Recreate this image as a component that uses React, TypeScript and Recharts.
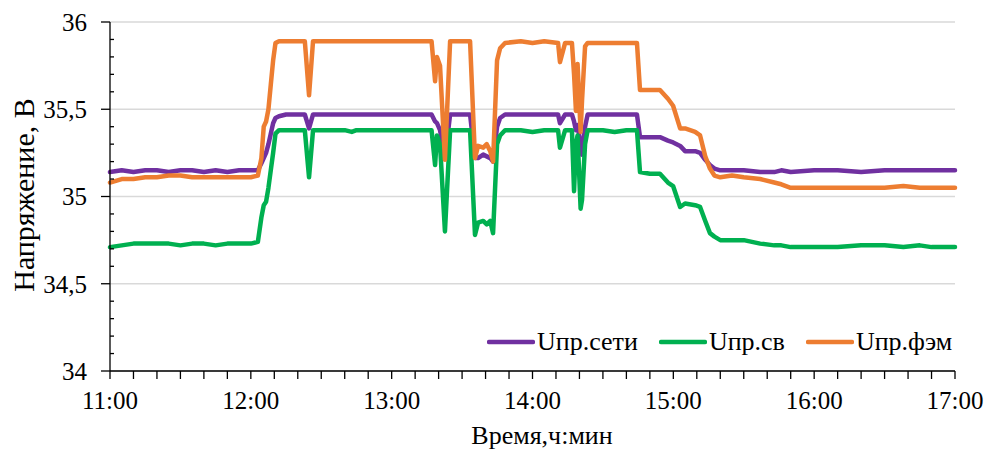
import React from 'react';
import { LineChart, Line, XAxis, YAxis, CartesianGrid } from 'recharts';

// minutes since 11:00
const minutes = [
  0, 5, 10, 15, 20, 25, 30, 35, 40, 45, 50, 55, 60, 63, 64.5, 65.5, 66.5, 67.5, 68.5, 69.5,
  70.5, 72, 75, 80, 83, 84.8, 86.5, 90, 100, 103, 105, 110, 120, 130, 137, 138.5, 139.3, 140.6, 142.7, 144.9,
  150, 153.4, 155.5, 156.8, 159, 160.5, 162, 163.2, 164.9, 166.2, 168.3, 175, 180, 185, 190.9, 191.7, 193.9, 196.8, 197.7, 198.5,
  199.2, 200.5, 201.1, 202.4, 203.5, 210, 215, 220, 224.5, 225.8, 230, 234.3, 237.7, 239.9, 242.9, 245, 249.3, 251.4, 253.6, 255.6,
  257.5, 260, 265, 270, 277, 283, 286, 290, 300, 310, 320, 330, 338, 345, 350, 360,
];

const uSeti = [
  35.14, 35.15, 35.14, 35.15, 35.15, 35.14, 35.15, 35.15, 35.14, 35.15, 35.14, 35.15, 35.15, 35.15, 35.19, 35.22, 35.25, 35.3, 35.36, 35.42,
  35.45, 35.46, 35.47, 35.47, 35.47, 35.39, 35.47, 35.47, 35.47, 35.47, 35.47, 35.47, 35.47, 35.47, 35.47, 35.43, 35.42, 35.38, 35.22, 35.47,
  35.47, 35.47, 35.22, 35.22, 35.24, 35.23, 35.22, 35.2, 35.4, 35.45, 35.47, 35.47, 35.47, 35.47, 35.47, 35.42, 35.47, 35.47, 35.43, 35.38,
  35.41, 35.3, 35.24, 35.4, 35.47, 35.47, 35.47, 35.47, 35.47, 35.34, 35.34, 35.34, 35.32, 35.31, 35.29, 35.26, 35.26, 35.25, 35.21, 35.18,
  35.16, 35.15, 35.15, 35.15, 35.14, 35.14, 35.15, 35.14, 35.15, 35.15, 35.14, 35.15, 35.15, 35.15, 35.15, 35.15,
];

const uSv = [
  34.71, 34.72, 34.73, 34.73, 34.73, 34.73, 34.72, 34.73, 34.73, 34.72, 34.73, 34.73, 34.73, 34.74, 34.88, 34.95, 34.97, 35.05, 35.15, 35.25,
  35.36, 35.38, 35.38, 35.38, 35.38, 35.11, 35.38, 35.38, 35.38, 35.37, 35.38, 35.38, 35.38, 35.38, 35.38, 35.18, 35.35, 35.3, 34.8, 35.38,
  35.38, 35.38, 34.78, 34.85, 34.86, 34.84, 34.86, 34.79, 35.3, 35.35, 35.38, 35.38, 35.37, 35.38, 35.38, 35.28, 35.38, 35.38, 35.03, 35.3,
  35.35, 34.93, 34.98, 35.3, 35.38, 35.38, 35.37, 35.38, 35.38, 35.14, 35.13, 35.13, 35.08, 35.06, 34.94, 34.96, 34.95, 34.94, 34.86, 34.79,
  34.77, 34.75, 34.75, 34.75, 34.73, 34.72, 34.72, 34.71, 34.71, 34.71, 34.72, 34.72, 34.71, 34.72, 34.71, 34.71,
];

const uFem = [
  35.08, 35.1, 35.1, 35.11, 35.11, 35.12, 35.12, 35.11, 35.11, 35.11, 35.11, 35.11, 35.11, 35.12, 35.22, 35.4, 35.43, 35.5, 35.64, 35.78,
  35.88, 35.89, 35.89, 35.89, 35.89, 35.58, 35.89, 35.89, 35.89, 35.89, 35.89, 35.89, 35.89, 35.89, 35.89, 35.66, 35.8, 35.75, 35.21, 35.89,
  35.89, 35.89, 35.22, 35.29, 35.28, 35.3, 35.26, 35.2, 35.78, 35.85, 35.88, 35.89, 35.88, 35.89, 35.88, 35.77, 35.88, 35.88, 35.7, 35.49,
  35.76, 35.37, 35.55, 35.86, 35.88, 35.88, 35.88, 35.88, 35.88, 35.61, 35.61, 35.61, 35.56, 35.52, 35.39, 35.39, 35.37, 35.35, 35.23, 35.16,
  35.12, 35.11, 35.12, 35.11, 35.1, 35.08, 35.07, 35.05, 35.05, 35.05, 35.05, 35.05, 35.06, 35.05, 35.05, 35.05,
];

const xTicks = [
  0, 10, 20, 30, 40, 50, 60, 70, 80, 90, 100, 110, 120, 130, 140, 150, 160, 170, 180,
  190, 200, 210, 220, 230, 240, 250, 260, 270, 280, 290, 300, 310, 320, 330, 340, 350, 360,
];
const yTicks = [
  34, 34.1, 34.2, 34.3, 34.4, 34.5, 34.6, 34.7, 34.8, 34.9, 35,
  35.1, 35.2, 35.3, 35.4, 35.5, 35.6, 35.7, 35.8, 35.9, 36,
];
const yMajor = [34, 34.5, 35, 35.5, 36];

const data = minutes.map((t, i) => ({ t, seti: uSeti[i], sv: uSv[i], fem: uFem[i] }));

const series = [
  { key: 'seti', name: 'Uпр.сети', color: '#7030A0' },
  { key: 'sv', name: 'Uпр.св', color: '#00B050' },
  { key: 'fem', name: 'Uпр.фэм', color: '#ED7D31' },
];

const FONT = '"Liberation Serif", "Times New Roman", serif';
const W = 986;
const H = 451;
const AXIS_X = 110;
const AXIS_BOTTOM = 371;

const YTick = (props: any) => {
  const { y, payload } = props;
  const v = payload.value;
  const isMajor = yMajor.some((m) => Math.abs(m - v) < 1e-6);
  if (!isMajor) {
    return <line x1={AXIS_X} x2={AXIS_X + 4} y1={y} y2={y} stroke="#000" strokeWidth={1.3} />;
  }
  return (
    <g>
      <line x1={AXIS_X - 9} x2={AXIS_X} y1={y} y2={y} stroke="#000" strokeWidth={1.3} />
      <text x={AXIS_X - 23} y={y} dy="0.35em" textAnchor="end" fontSize={25} fontFamily={FONT} fill="#000">
        {String(v).replace('.', ',')}
      </text>
    </g>
  );
};

const XTick = (props: any) => {
  const { x, payload } = props;
  const v = payload.value;
  return (
    <g>
      <line x1={x} x2={x} y1={AXIS_BOTTOM} y2={AXIS_BOTTOM + 8} stroke="#000" strokeWidth={1.3} />
      {v % 60 === 0 && (
        <text x={x} y={AXIS_BOTTOM + 29} dy="0.35em" textAnchor="middle" fontSize={25} fontFamily={FONT} fill="#000">
          {`${11 + v / 60}:00`}
        </text>
      )}
    </g>
  );
};

export default function App() {
  return (
    <div style={{ position: 'absolute', left: 0, top: 0, width: W, height: H, background: '#fff', fontFamily: FONT }}>
      <LineChart width={W} height={H} data={data} margin={{ top: 22, right: 31, bottom: 0, left: 0 }}>
        <CartesianGrid horizontal vertical={false} stroke="#d9d9d9" strokeWidth={1.3} horizontalValues={yMajor} />
        <XAxis
          dataKey="t"
          type="number"
          domain={[0, 360]}
          ticks={xTicks}
          interval={0}
          height={80}
          tickLine={false}
          axisLine={{ stroke: '#000', strokeWidth: 1.3 }}
          tick={<XTick />}
          label={{
            content: () => (
              <text x={542} y={435} dy="0.35em" textAnchor="middle" fontSize={26} fontFamily={FONT} fill="#000">
                Время,ч:мин
              </text>
            ),
          }}
        />
        <YAxis
          type="number"
          domain={[34, 36]}
          ticks={yTicks}
          interval={0}
          width={110}
          tickLine={false}
          axisLine={{ stroke: '#000', strokeWidth: 1.3 }}
          tick={<YTick />}
          label={{
            content: () => (
              <text
                x={23}
                y={195}
                dy="0.35em"
                textAnchor="middle"
                fontSize={30}
                fontFamily={FONT}
                fill="#000"
                transform="rotate(-90 23 195)"
              >
                Напряжение, В
              </text>
            ),
          }}
        />
        {series.map((s) => (
          <Line
            key={s.key}
            type="linear"
            dataKey={s.key}
            name={s.name}
            stroke={s.color}
            strokeWidth={4.5}
            strokeLinejoin="round"
            strokeLinecap="round"
            dot={false}
            activeDot={false}
            isAnimationActive={false}
          />
        ))}
      </LineChart>
      <div
        style={{
          position: 'absolute',
          left: 487,
          top: 328,
          height: 28,
          display: 'flex',
          alignItems: 'center',
          fontSize: 26,
          color: '#000',
          whiteSpace: 'nowrap',
        }}
      >
        {series.map((s) => (
          <div key={s.key} style={{ display: 'flex', alignItems: 'center', marginRight: 21 }}>
            <svg width={48} height={10} style={{ marginRight: 2 }}>
              <line x1={2} x2={46} y1={5} y2={5} stroke={s.color} strokeWidth={4.5} strokeLinecap="round" />
            </svg>
            <span>{s.name}</span>
          </div>
        ))}
      </div>
    </div>
  );
}
